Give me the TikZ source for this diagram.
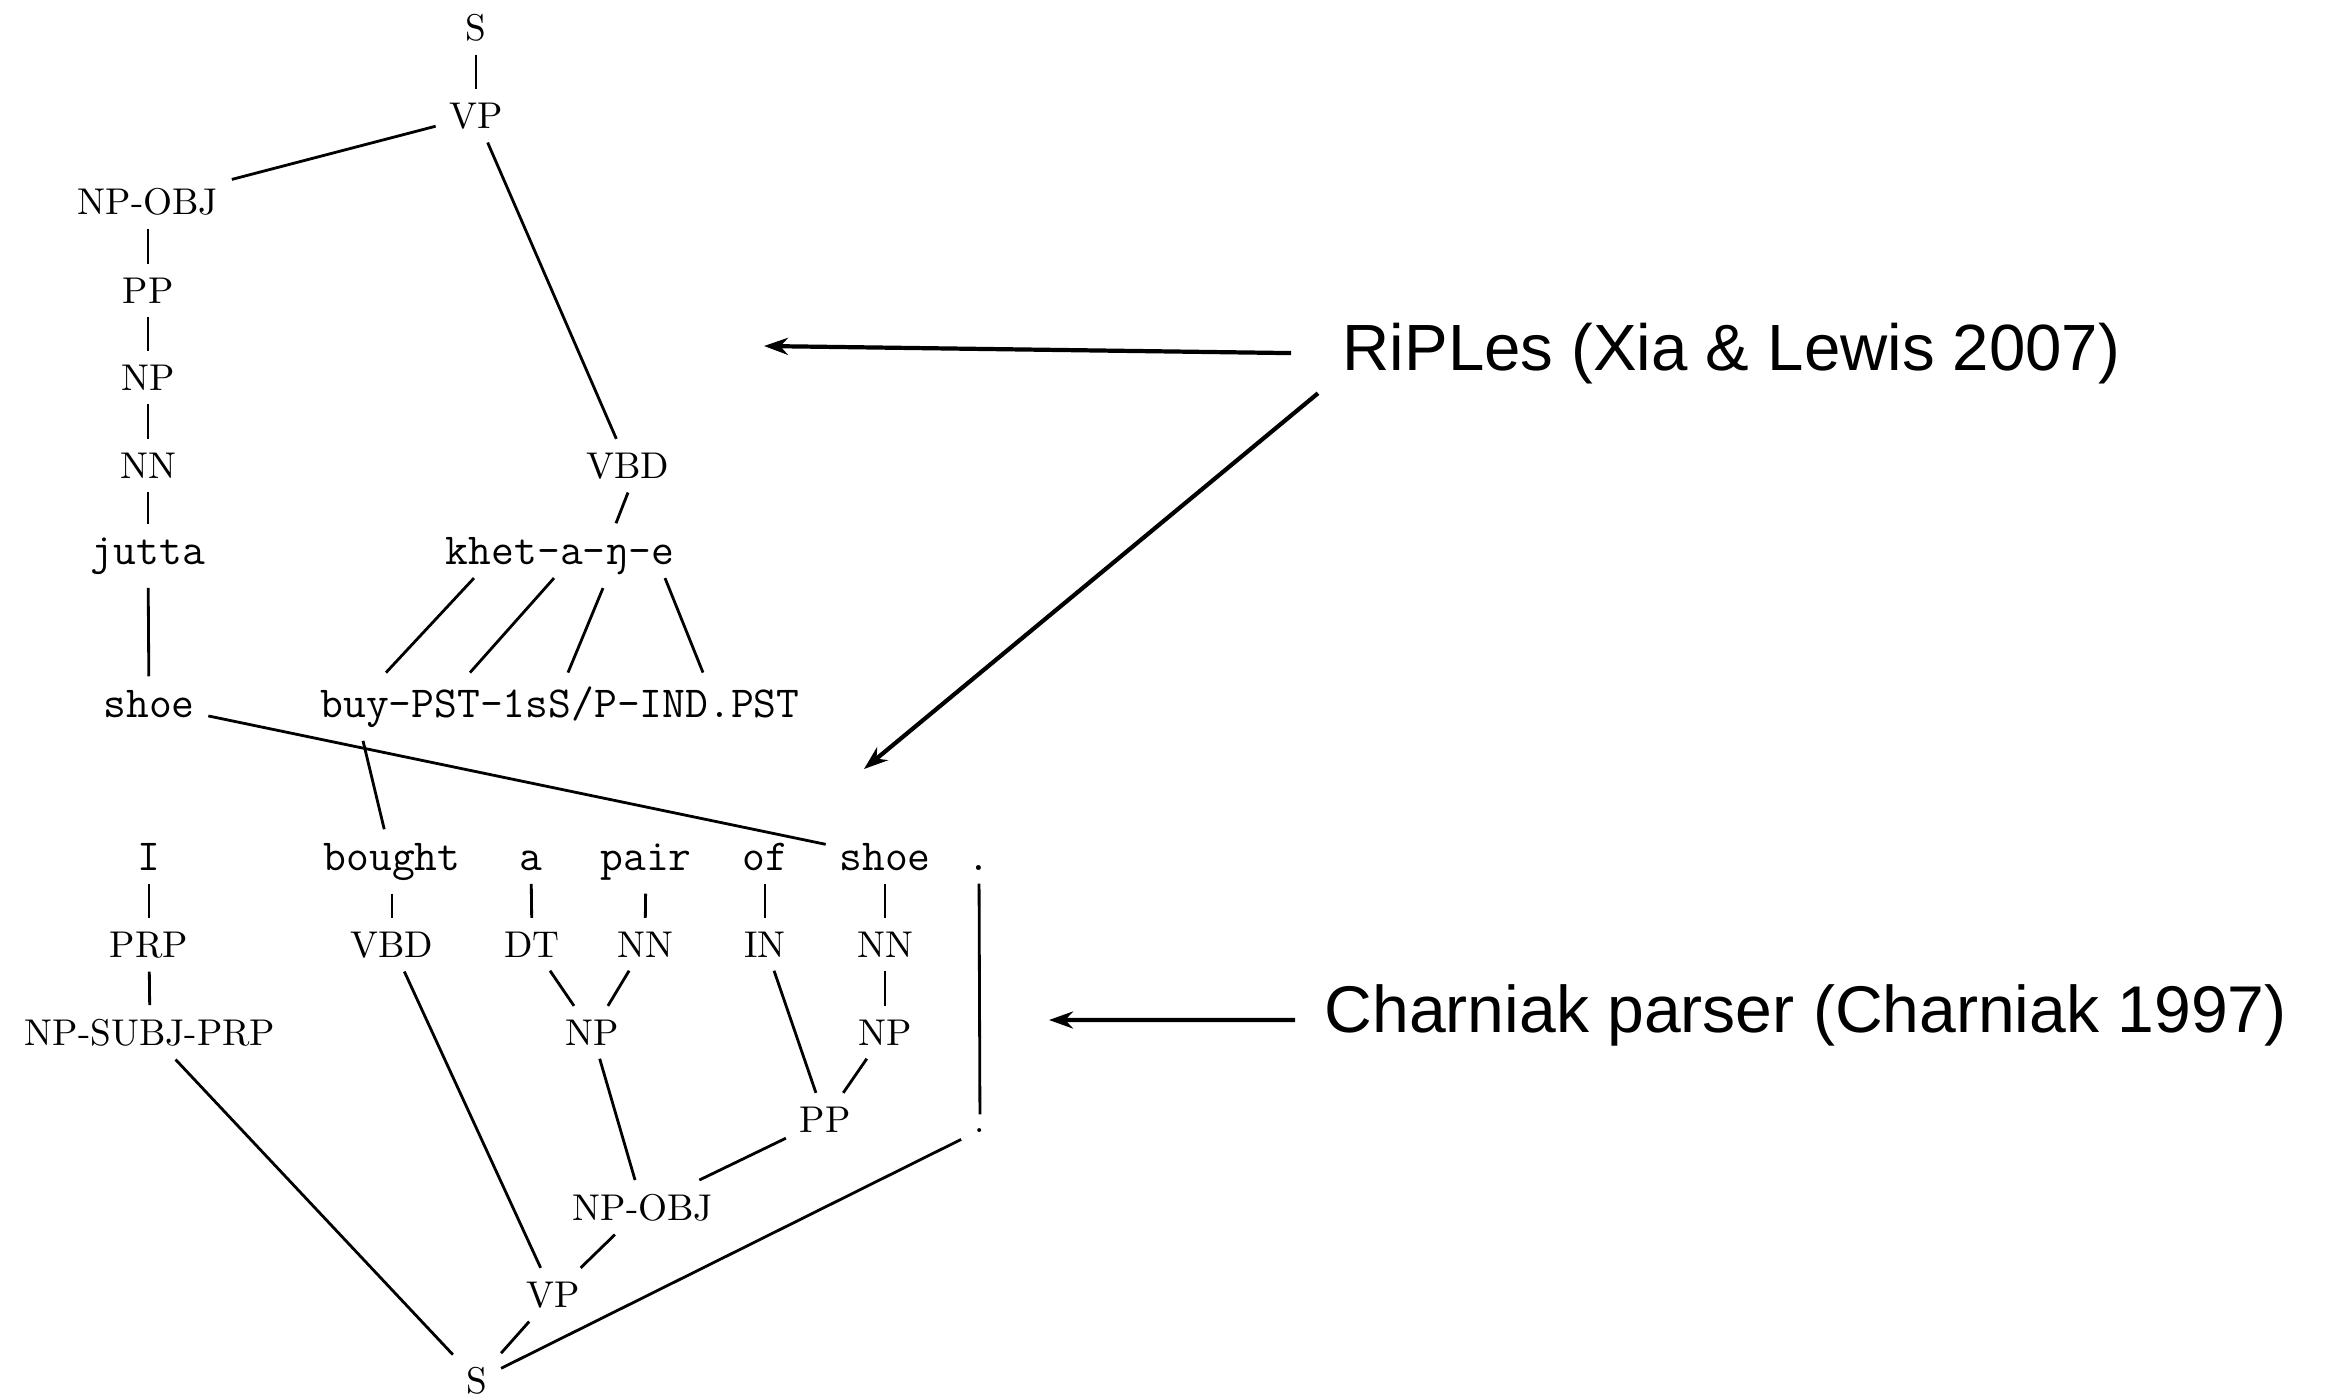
\documentclass[tikz,border=0pt]{standalone}
\usepackage{fontspec}
\newfontfamily\notefont{Liberation Sans}
\usetikzlibrary{arrows.meta}

\begin{document}
\begin{tikzpicture}[x=0.1mm,y=-0.1mm,
  lbl/.style={anchor=base,inner sep=3.7pt,font=\fontsize{10.6}{12}\selectfont},
  wrd/.style={anchor=base,inner sep=3.7pt,font=\ttfamily\fontsize{12.6}{14}\selectfont},
  note/.style={anchor=base west,inner sep=0pt,font=\notefont\fontsize{18.6}{22}\selectfont},
  branch/.style={line width=0.8pt},
  pointer/.style={->,line width=1.2pt},
  >={Stealth[length=2.4mm,width=1.7mm]}]
  \useasboundingbox (0,0) rectangle (2327,1395);
  \node[lbl] (s)      at (476,40)   {S};
  \node[lbl] (vp)     at (476,128)  {VP};
  \node[lbl] (npobj)  at (148,214)  {NP-OBJ};
  \node[lbl] (pp)     at (148,303)  {PP};
  \node[lbl] (np)     at (148,390)  {NP};
  \node[lbl] (nn)     at (148,478)  {NN};
  \node[lbl] (vbd)    at (628,478)  {VBD};
  \node[wrd] (jutta)  at (148,564)  {jutta};
  \node[wrd] (khet)   at (560,564)  {khet-a-ŋ-e};
  \node[wrd] (shoe)   at (149,717)  {shoe};
  \node[wrd] (buy)    at (560,717)  {buy-PST-1sS/P-IND.PST};
  \node[wrd] (wi)     at (149,870)  {I};
  \node[wrd] (wbought) at (392,870) {bought};
  \node[wrd] (wa)     at (531,870)  {a};
  \node[wrd] (wpair)  at (646,870)  {pair};
  \node[wrd] (wof)    at (765,870)  {of};
  \node[wrd] (wshoe)  at (885,870)  {shoe};
  \node[wrd] (wdot)   at (979,870)  {.};
  \node[lbl] (tprp)   at (149,957)  {PRP};
  \node[lbl] (tvbd)   at (392,957)  {VBD};
  \node[lbl] (tdt)    at (532,957)  {DT};
  \node[lbl] (tnn)    at (645,957)  {NN};
  \node[lbl] (tin)    at (765,957)  {IN};
  \node[lbl] (tnnb)   at (885,957)  {NN};
  \node[lbl] (npsubj) at (150,1045) {NP-SUBJ-PRP};
  \node[lbl] (npa)    at (592,1045) {NP};
  \node[lbl] (npb)    at (885,1045) {NP};
  \node[lbl] (ppb)    at (825,1132) {PP};
  \node[lbl] (tdot)   at (980,1132) {.};
  \node[lbl] (npobjb) at (643,1220) {NP-OBJ};
  \node[lbl] (vpb)    at (553,1307) {VP};
  \node[lbl] (sb)     at (477,1393) {S};
  \draw[branch] (s) -- (vp);
  \draw[branch] (vp) -- (npobj);
  \draw[branch] (vp) -- (vbd);
  \draw[branch] (npobj) -- (pp);
  \draw[branch] (pp) -- (np);
  \draw[branch] (np) -- (nn);
  \draw[branch] (nn) -- (jutta);
  \draw[branch] (jutta) -- (shoe);
  \draw[branch] (vbd.south) -- ([xshift=5.6mm]khet.north);
  \draw[branch] ([shift={(-86,-10)}]khet.south) -- ([xshift=-17.4mm]buy.north);
  \draw[branch] ([shift={(-6,-10)}]khet.south) -- ([xshift=-9mm]buy.north);
  \draw[branch] ([xshift=4.3mm]khet.south) -- ([xshift=0.8mm]buy.north);
  \draw[branch] ([shift={(105,-10)}]khet.south) -- ([xshift=14.3mm]buy.north);
  \draw[branch] (shoe) -- (wshoe);
  \draw[branch] ([xshift=-19.7mm]buy.south) -- (wbought);
  \draw[branch] (wi) -- (tprp);
  \draw[branch] (wbought) -- (tvbd);
  \draw[branch] (wa) -- (tdt);
  \draw[branch] (wpair) -- (tnn);
  \draw[branch] (wof) -- (tin);
  \draw[branch] (wshoe) -- (tnnb);
  \draw[branch] (wdot) -- (tdot);
  \draw[branch] (tprp) -- (npsubj);
  \draw[branch] (tdt) -- (npa);
  \draw[branch] (tnn) -- (npa);
  \draw[branch] (tnnb) -- (npb);
  \draw[branch] (tin) -- (ppb);
  \draw[branch] (npb) -- (ppb);
  \draw[branch] (npa) -- (npobjb);
  \draw[branch] (ppb) -- (npobjb);
  \draw[branch] (tvbd) -- (vpb);
  \draw[branch] (npobjb) -- (vpb);
  \draw[branch] (npsubj) -- (sb);
  \draw[branch] (vpb) -- (sb);
  \draw[branch] (tdot) -- (sb);
  \node[note] (ripples)  at (1342,370)  {RiPLes (Xia \& Lewis 2007)};
  \node[note,font=\notefont\fontsize{18.8}{22}\selectfont] (charniak) at (1324,1032) {Charniak parser (Charniak 1997)};
  \coordinate (tipa) at (764,346);
  \coordinate (tipb) at (864,769);
  \coordinate (tipc) at (1049,1020);
  \draw[pointer] ([xshift=-5.1mm]ripples.west) -- (tipa);
  \draw[pointer] ([shift={(-24,9)}]ripples.south west) -- (tipb);
  \draw[pointer] ([shift={(-29,5)}]charniak.west) -- (tipc);
\end{tikzpicture}
\end{document}
